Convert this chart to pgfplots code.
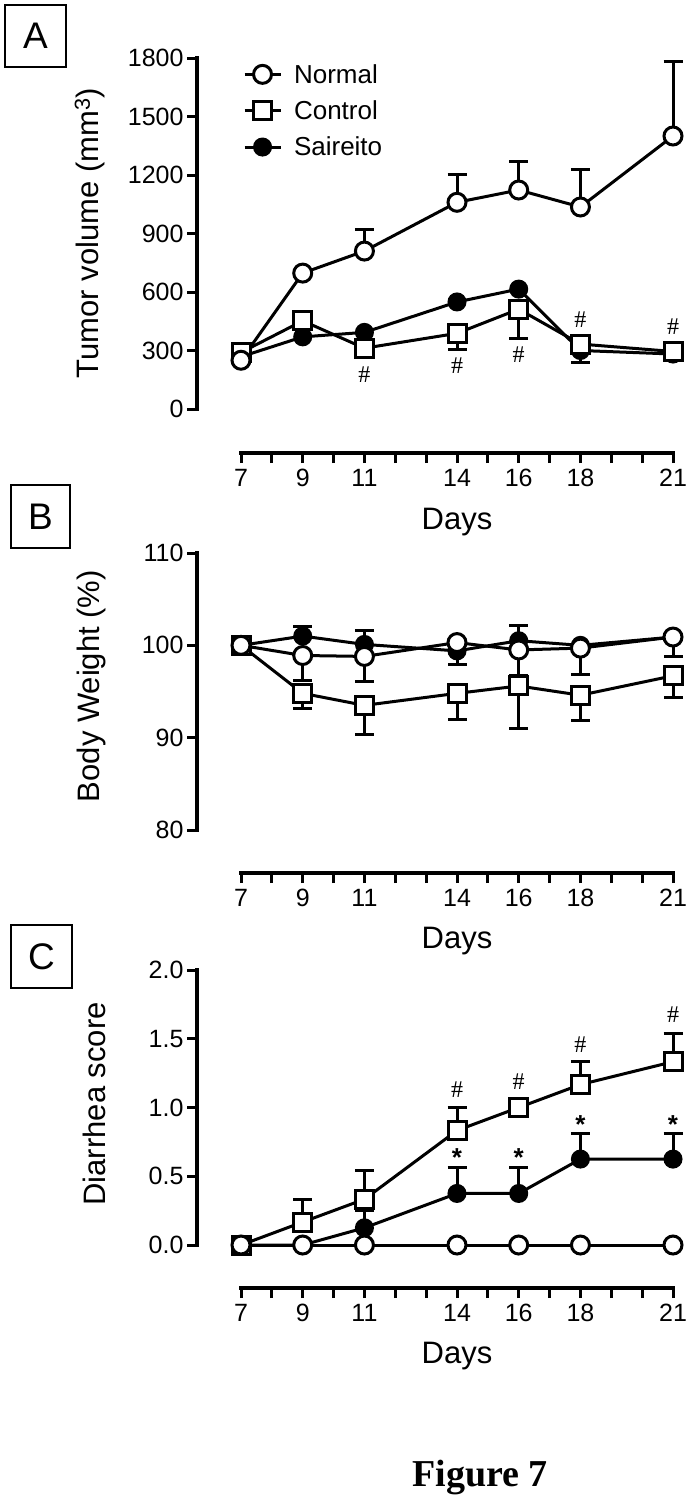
\documentclass[border=0pt]{standalone}
\usepackage{fontspec}
\setmainfont{Liberation Sans}
\newfontfamily\timesfont{Liberation Serif}
\usepackage{pgfplots}
\pgfplotsset{compat=1.18}
\usepackage{pgfplotstable}

% ---------- Panel A data ----------
\pgfplotstableread{
day normal control saireito
7  250  290  268
9  697  452  370
11 810  312  393
14 1060 388  549
16 1123 512  615
18 1036 333  300
21 1400 295  282
}\dataA
\pgfplotstableread{
day y e
11 810 113
14 1060 145
16 1123 144
18 1036 190
21 1400 380
}\errAn
\pgfplotstableread{
day y e
14 388 81
16 512 148
}\errAc
\pgfplotstableread{
day y e
18 300 64
}\errAs
% ---------- Panel B data ----------
\pgfplotstableread{
day normal control saireito
7  100   100  100
9  98.9  94.8 101.0
11 98.8  93.5 100.1
14 100.3 94.8 99.4
16 99.5  95.6 100.5
18 99.7  94.6 100.0
21 100.9 96.7 100.9
}\dataB
\pgfplotstableread{
day y e
9  98.9  2.7
11 98.8  2.7
14 100.3 2.4
16 99.5  2.8
18 99.7  2.9
21 100.9 2.1
}\errBn
\pgfplotstableread{
day y e
9  94.8 1.6
11 93.5 3.2
14 94.8 2.8
16 95.6 4.6
18 94.6 2.7
21 96.7 2.3
}\errBc
\pgfplotstableread{
day y e
9  101.0 1.0
11 100.1 1.5
16 100.5 1.7
}\errBs
% ---------- Panel C data ----------
\pgfplotstableread{
day normal control saireito
7  0 0     0
9  0 0.167 0
11 0 0.333 0.125
14 0 0.833 0.375
16 0 1.000 0.375
18 0 1.167 0.625
21 0 1.333 0.625
}\dataC
\pgfplotstableread{
day y e
9  0.167 0.167
11 0.333 0.208
14 0.833 0.167
18 1.167 0.167
21 1.333 0.208
}\errCc
\pgfplotstableread{
day y e
11 0.125 0.125
14 0.375 0.188
16 0.375 0.188
18 0.625 0.188
21 0.625 0.188
}\errCs

\pgfplotsset{
  panel/.style={
    scale only axis, width=476pt, clip=false,
    axis lines*=left, axis line style={draw=none},
    xmin=5.574, xmax=21,
    xtick={7,...,21},
    xticklabels={7,,9,,11,,,14,,16,,18,,,21},
    tick align=outside, major tick length=10pt,
    every tick/.style={black, line width=3pt},
    tick label style={font=\fontsize{25}{29}\selectfont},
    xticklabel style={yshift=-2pt, text height=18pt, text depth=1pt},
    /pgf/number format/assume math mode=true,
    /pgf/number format/1000 sep={},
    label style={font=\fontsize{31}{36}\selectfont},
    xlabel={Days},
    every axis plot/.append style={line width=3pt},
  },
  nrm/.style={black, mark=*, mark size=9pt, mark options={fill=white, draw=black, line width=3pt}},
  ctl/.style={black, mark=square*, mark size=9pt, mark options={fill=white, draw=black, line width=3pt}},
  sai/.style={black, mark=*, mark size=8pt, mark options={fill=black, draw=black, line width=3pt}},
  errp/.style={draw=none, mark=none, forget plot,
    error bars/.cd, y dir=plus, y explicit,
    error bar style={draw=black, line width=3pt},
    error mark options={draw=black, line width=3pt, mark size=9.5pt, rotate=90}},
  errm/.style={draw=none, mark=none, forget plot,
    error bars/.cd, y dir=minus, y explicit,
    error bar style={draw=black, line width=3pt},
    error mark options={draw=black, line width=3pt, mark size=9.5pt, rotate=90}},
}

\begin{document}
\begin{tikzpicture}
\useasboundingbox (0pt,0pt) rectangle (688pt,-1499pt);

% panel letters
\node[draw, line width=1.5pt, minimum width=61pt, minimum height=62pt, inner sep=0pt,
      font=\fontsize{37}{40}\selectfont] at (35.5pt,-36pt) {A};
\node[draw, line width=1.5pt, minimum width=59pt, minimum height=63pt, inner sep=0pt,
      font=\fontsize{37}{40}\selectfont] at (40.5pt,-516.5pt) {B};
\node[draw, line width=1.5pt, minimum width=61pt, minimum height=63pt, inner sep=0pt,
      font=\fontsize{37}{40}\selectfont] at (41.5pt,-956.5pt) {C};

% ================= Panel A =================
\begin{axis}[panel, at={(197pt,-453pt)}, anchor=south west, height=395pt,
  ymin=-225.6, ymax=1800, ytick={0,300,...,1800},
  ylabel={Tumor volume (mm\textsuperscript{3})},
  ylabel style={at={(axis description cs:-0.2248,0.557)}, anchor=center},
  xlabel style={at={(axis description cs:0.5462,-0.1747)}, anchor=center},
  reverse legend, legend cell align=left,
  legend image code/.code={\draw[mark repeat=2, mark phase=2, #1] plot coordinates {(0pt,0pt) (18pt,0pt) (36pt,0pt)};},
  legend style={at={(axis description cs:0.09,0.995)}, anchor=north west, draw=none, fill=none,
    font=\fontsize{26}{30}\selectfont, row sep=12pt, column sep=10pt},
]
\draw[line width=3.5pt, line cap=rect] (axis cs:5.574,0) -- (axis cs:5.574,1800);
\draw[line width=3.5pt, line cap=rect] (axis cs:7,-225.6) -- (axis cs:21,-225.6);
\addplot[errp] table[x=day, y=y, y error=e] {\errAn};
\addplot[errm] table[x=day, y=y, y error=e] {\errAc};
\addplot[errm] table[x=day, y=y, y error=e] {\errAs};
\addplot[sai] table[x=day, y=saireito] {\dataA};
\addlegendentry{Saireito}
\addplot[ctl] table[x=day, y=control] {\dataA};
\addlegendentry{Control}
\addplot[nrm] table[x=day, y=normal] {\dataA};
\addlegendentry{Normal}
\begin{scope}[every node/.style={font=\timesfont\fontsize{24}{24}\selectfont, inner sep=0pt}]
\node at (axis cs:11,174) {\#};
\node at (axis cs:14,220) {\#};
\node at (axis cs:16,277) {\#};
\node at (axis cs:18,456) {\#};
\node at (axis cs:21,420) {\#};
\end{scope}
\end{axis}

% ================= Panel B =================
\begin{axis}[panel, at={(197pt,-873pt)}, anchor=south west, height=320pt,
  ymin=75.343, ymax=110, ytick={80,90,100,110},
  ylabel={Body Weight (\%)},
  ylabel style={at={(axis description cs:-0.2227,0.584)}, anchor=center},
  xlabel style={at={(axis description cs:0.5462,-0.2125)}, anchor=center},
]
\draw[line width=3.5pt, line cap=rect] (axis cs:5.574,80) -- (axis cs:5.574,110);
\draw[line width=3.5pt, line cap=rect] (axis cs:7,75.343) -- (axis cs:21,75.343);
\addplot[errm] table[x=day, y=y, y error=e] {\errBn};
\addplot[errm] table[x=day, y=y, y error=e] {\errBc};
\addplot[errp] table[x=day, y=y, y error=e] {\errBs};
\addplot[sai] table[x=day, y=saireito] {\dataB};
\addplot[ctl] table[x=day, y=control] {\dataB};
\addplot[nrm] table[x=day, y=normal] {\dataB};
\end{axis}

% ================= Panel C =================
\begin{axis}[panel, at={(197pt,-1288pt)}, anchor=south west, height=318pt,
  ymin=-0.3127, ymax=2, ytick={0,0.5,...,2},
  yticklabel style={/pgf/number format/.cd, fixed, fixed zerofill, precision=1},
  ylabel={Diarrhea score},
  ylabel style={at={(axis description cs:-0.216,0.579)}, anchor=center},
  xlabel style={at={(axis description cs:0.5462,-0.2138)}, anchor=center},
]
\draw[line width=3.5pt, line cap=rect] (axis cs:5.574,0) -- (axis cs:5.574,2);
\draw[line width=3.5pt, line cap=rect] (axis cs:7,-0.3127) -- (axis cs:21,-0.3127);
\addplot[errp] table[x=day, y=y, y error=e] {\errCc};
\addplot[errp] table[x=day, y=y, y error=e] {\errCs};
\addplot[sai] table[x=day, y=saireito] {\dataC};
\addplot[ctl] table[x=day, y=control] {\dataC};
\addplot[nrm] table[x=day, y=normal] {\dataC};
\begin{scope}[every node/.style={font=\timesfont\fontsize{24}{24}\selectfont, inner sep=0pt}]
\node at (axis cs:14,1.127) {\#};
\node at (axis cs:16,1.185) {\#};
\node at (axis cs:18,1.455) {\#};
\node at (axis cs:21,1.673) {\#};
\end{scope}
\begin{scope}[every node/.style={font=\bfseries\fontsize{26}{26}\selectfont, inner sep=0pt, anchor=north}]
\node at (axis cs:14,0.70) {*};
\node at (axis cs:16,0.70) {*};
\node at (axis cs:18,0.94) {*};
\node at (axis cs:21,0.94) {*};
\end{scope}
\end{axis}

\node[font=\timesfont\bfseries\fontsize{38}{40}\selectfont, anchor=base] at (480pt,-1486pt) {Figure 7};
\end{tikzpicture}
\end{document}
